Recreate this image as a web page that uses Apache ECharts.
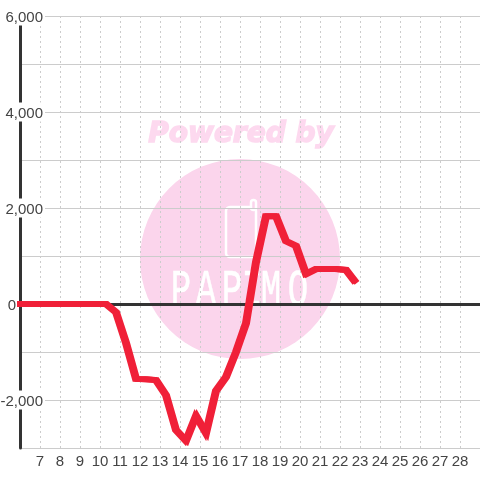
<!DOCTYPE html>
<html>
<head>
<meta charset="utf-8">
<style>
  html, body { margin: 0; padding: 0; background: #fff; }
  #chart { width: 480px; height: 480px; }
</style>
<script src="https://cdn.jsdelivr.net/npm/echarts@6/dist/echarts.min.js"></script>
</head>
<body>
<div id="chart"></div>
<script>
// half-hour samples, hour of day
var hours = [5.85, 6.25, 6.75, 7.25, 7.75, 8.25, 8.75, 9.25, 9.75, 10.25, 10.75, 11.25, 11.75, 12.25, 12.75, 13.25, 13.75, 14.25,
  14.75, 15.25, 15.75, 16.25, 16.75, 17.25, 17.75, 18.25, 18.75, 19.25, 19.75, 20.25, 20.75, 21.25, 21.75, 22.25, 22.75];
var values = [0, 0, 0, 0, 0, 0, 0, 0, 0, 0, -170, -810, -1560, -1570, -1585, -1900, -2625, -2850,
  -2330, -2690, -1810, -1520, -1000, -400, 875, 1830, 1830, 1310, 1210, 625, 730, 730, 730, 710, 440];
var yTickLabels = [-2000, 0, 2000, 4000, 6000];
var wordmark = ["P", "A", "P", "I", "M", "O"];
var wordmarkX = [181, 206, 232, 252, 271, 298];

var pink = "#fbd5ec";
var grey = "#444";
var gridColor = "#ccc";
var red = "#f02038";

var points = hours.map(function (h, i) {
  return [h, values[i]];
});

// watermark sits behind the grid
var watermark = [
  { type: "circle", z: -10, silent: true, shape: { cx: 240, cy: 259, r: 100 }, style: { fill: pink } },
  {
    type: "text", z: -10, silent: true, x: 241, y: 135,
    style: {
      text: "Powered by", fill: "#fdd9ef", stroke: "#fdd9ef", lineWidth: 1.5, align: "center", verticalAlign: "middle",
      font: "italic bold 28px 'DejaVu Sans'"
    }
  },
  {
    type: "rect", z: -9, silent: true,
    shape: { x: 226, y: 207, width: 30, height: 50, r: 4 },
    style: { fill: "none", stroke: "#fff", lineWidth: 2.5 }
  },
  {
    type: "rect", z: -9, silent: true,
    shape: { x: 251, y: 200, width: 5, height: 10, r: 2.5 },
    style: { fill: pink, stroke: "#fff", lineWidth: 2.5 }
  }
].concat(wordmark.map(function (ch, i) {
  return {
    type: "text", z: -9, silent: true, x: wordmarkX[i], y: 291, scaleY: 1.5,
    style: {
      text: ch, fill: "#fff", stroke: "#fff", lineWidth: 0.4, align: "center", verticalAlign: "middle",
      font: "34px 'Liberation Mono'"
    }
  };
}));

var chart = echarts.init(document.getElementById("chart"), null, { renderer: "canvas" });
chart.setOption({
  animation: false,
  grid: { left: 20, right: 0, top: 16, bottom: 32, containLabel: false, outerBoundsMode: "none" },
  graphic: { elements: watermark },
  xAxis: [
    {
      type: "value", min: 6, max: 29, interval: 1,
      axisLine: { show: false, onZero: false },
      axisTick: { show: false },
      axisLabel: {
        color: grey, fontFamily: "Liberation Sans", fontSize: 15, margin: 6,
        showMinLabel: false, showMaxLabel: false
      },
      splitLine: { show: true, lineStyle: { color: gridColor, type: [2, 3], width: 1 } }
    },
    {
      // zero line only
      type: "value", min: 6, max: 29, interval: 1,
      axisLine: { show: true, onZero: true, lineStyle: { color: "#333", width: 3 } },
      axisTick: { show: false },
      axisLabel: { show: false },
      splitLine: { show: false }
    }
  ],
  yAxis: {
    type: "value", min: -3000, max: 6000, interval: 1000,
    axisLine: { show: true, onZero: false, lineStyle: { color: "#333", width: 3 } },
    axisTick: { show: false },
    axisLabel: {
      color: grey, fontFamily: "Liberation Sans", fontSize: 15, margin: -25,
      align: "right",
      formatter: function (v) {
        if (yTickLabels.indexOf(v) < 0) return "";
        if (v === 0) return "{z|0}";
        return "{n|" + v.toLocaleString("en-US") + "}";
      },
      rich: {
        n: { backgroundColor: "#fff", padding: [4, 2, 0, 2], color: grey, fontFamily: "Liberation Sans", fontSize: 15 },
        z: { padding: [4, 29, 0, 0], color: grey, fontFamily: "Liberation Sans", fontSize: 15 }
      }
    },
    splitLine: { show: true, lineStyle: { color: gridColor, width: 1 } }
  },
  series: [
    {
      type: "line",
      data: points,
      xAxisIndex: 0,
      clip: false,
      showSymbol: false,
      silent: true,
      // pen is wider than tall in the reference, hard shadow fattens the steep parts
      lineStyle: {
        color: red, width: 6, cap: "butt", join: "miter",
        shadowColor: red, shadowBlur: 0, shadowOffsetX: 2
      }
    }
  ]
});
</script>
</body>
</html>
